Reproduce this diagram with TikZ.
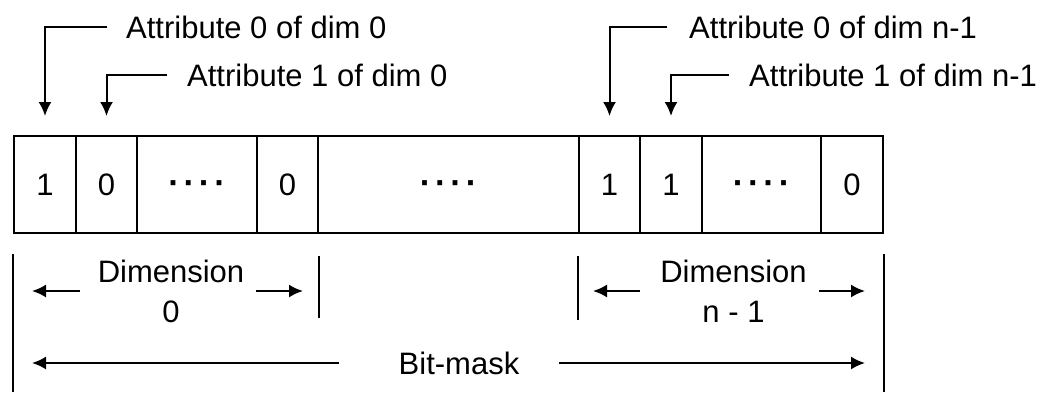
\documentclass[tikz,border=0pt]{standalone}
\usepackage{fontspec}
\setmainfont{Liberation Sans}
\usetikzlibrary{arrows.meta}
% centred dots used as the ellipsis inside the cells
\newcommand{\celldots}{\smash{\raisebox{-10pt}{·\kern4pt·\kern4pt·\kern4pt·}}}
\begin{document}
\begin{tikzpicture}[x=1pt, y=-1pt,
  txt/.style={font=\fontsize{31}{40}\selectfont, inner sep=0pt, text=black},
  cell/.style={draw, line width=2pt, minimum height=97pt, inner sep=0pt,
    font=\fontsize{31}{40}\selectfont},
  dotsfont/.style={font=\fontsize{34}{40}\selectfont\bfseries},
  arr/.style={line width=2pt, -{Latex[length=14pt,width=13pt]}},
  bar/.style={line width=2pt}]
\path[use as bounding box, fill=white] (0,0) rectangle (1057,392);

% bit cells of the mask
\node[cell, minimum width=62pt]  (c1) at (45,184.5)    {1};
\node[cell, minimum width=61pt]  (c2) at (106.5,184.5) {0};
\node[cell, minimum width=120pt, dotsfont] (c3) at (197,184.5) {\celldots};
\node[cell, minimum width=61pt]  (c4) at (287.5,184.5) {0};
\node[cell, minimum width=261pt, dotsfont] (c5) at (448.5,184.5) {\celldots};
\node[cell, minimum width=61pt]  (c6) at (609.5,184.5) {1};
\node[cell, minimum width=62pt]  (c7) at (671,184.5)   {1};
\node[cell, minimum width=119pt, dotsfont] (c8) at (761.5,184.5) {\celldots};
\node[cell, minimum width=62pt]  (c9) at (852,184.5)   {0};

% attribute labels and their pointers
\node[txt, anchor=west] (a00) at (126,27) {Attribute 0 of dim 0};
\node[txt, anchor=west] (a10) at (187,75) {Attribute 1 of dim 0};
\node[txt, anchor=west] (a0n) at (689,27) {Attribute 0 of dim n-1};
\node[txt, anchor=west] (a1n) at (749,75) {Attribute 1 of dim n-1};
\draw[arr, shorten <=19pt, shorten >=19pt] (a00.west) -| (c1.north);
\draw[arr, shorten <=20pt, shorten >=19pt] (a10.west) -| (c2.north);
\draw[arr, shorten <=22pt, shorten >=19pt] (a0n.west) -| (c6.north);
\draw[arr, shorten <=20pt, shorten >=19pt] (a1n.west) -| (c7.north);

% extent markers below the mask
\coordinate (m0t) at ([yshift=-20pt]c1.south west);
\coordinate (m0b) at (m0t |- 0,392);
\coordinate (m1t) at ([yshift=-22pt]c4.south east);
\coordinate (m1b) at ([yshift=-84pt]c4.south east);
\coordinate (m2t) at ([yshift=-22pt]c6.south west);
\coordinate (m2b) at ([yshift=-86pt]c6.south west);
\coordinate (m3t) at ([yshift=-20pt]c9.south east);
\coordinate (m3b) at (m3t |- 0,392);
\draw[bar] (m0t) -- (m0b);
\draw[bar] (m1t) -- (m1b);
\draw[bar] (m2t) -- (m2b);
\draw[bar] (m3t) -- (m3b);

% dimension spans
\node[txt, align=center] (d0) at (171,291) {Dimension\\0};
\node[txt, align=center] (dn) at (733.5,291) {Dimension\\n - 1};
\draw[arr, shorten <=18pt, shorten >=19pt] (d0.west) -- (d0.west -| m0t);
\draw[arr, shorten <=12pt, shorten >=16pt] (d0.east) -- (d0.east -| m1t);
\draw[arr, shorten <=20pt, shorten >=15pt] (dn.west) -- (dn.west -| m2t);
\draw[arr, shorten <=12pt, shorten >=19pt] (dn.east) -- (dn.east -| m3t);

% whole bit-mask span
\node[txt] (bm) at (459,363) {Bit-mask};
\draw[arr, shorten <=60pt, shorten >=19pt] (bm.west) -- (bm.west -| m0t);
\draw[arr, shorten <=40pt, shorten >=19pt] (bm.east) -- (bm.east -| m3t);
\end{tikzpicture}
\end{document}
